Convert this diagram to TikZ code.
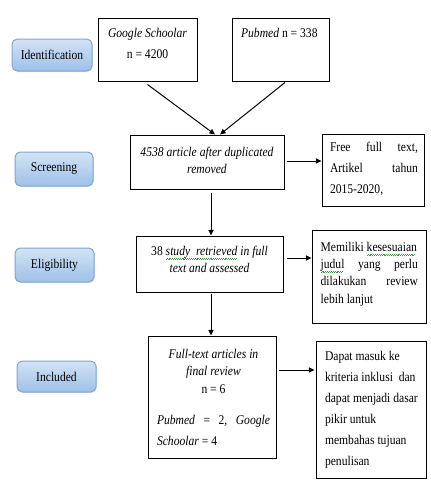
\documentclass[tikz,border=0pt]{standalone}
\usepackage{fontspec}
\setmainfont{Liberation Serif}[FakeStretch=0.87]
\usetikzlibrary{arrows.meta,calc,shadows}
\definecolor{wavegreen}{HTML}{3C9B3C}
\definecolor{lbtop}{HTML}{D3E3F5}
\definecolor{lbbot}{HTML}{9EC0E8}
\definecolor{lbdraw}{HTML}{7FA6D4}
\newcommand\gw[1]{\setbox0=\hbox{#1}\rlap{\color{wavegreen}\hbox to \wd0{\leaders\hbox{\rule[-3.1pt]{0.7pt}{0.45pt}\rule[-2.6pt]{0.7pt}{0.45pt}}\hfill}}\box0\relax}
% #1 width, #2 height, #3 left pad, #4 text width, #5 first baseline, #6 baselineskip, #7 content
\newcommand\tbx[7]{\parbox[c][#2][t]{#1}{\hspace*{#3}\parbox[t]{#4}{\baselineskip=#6\rule{0pt}{#5}#7}}}
\begin{document}
\begin{tikzpicture}[x=0.75pt,y=-0.75pt,
  box/.style={draw=black,line width=0.75pt,inner sep=0pt,fill=white},
  lab/.style={draw=lbdraw,line width=0.75pt,rounded corners=4pt,top color=lbtop,bottom color=lbbot,
     inner sep=0pt,font=\fontsize{10}{12}\selectfont,
     drop shadow={opacity=0.18,shadow xshift=0.8pt,shadow yshift=-0.8pt}},
  arr/.style={line width=0.75pt,-{Triangle[length=4.2pt,width=3.8pt]}}]
\useasboundingbox (0,0) rectangle (430,494);
\fill[white] (0,0) rectangle (430,494);
\fontsize{10}{12}\selectfont
% stage labels
\node[lab,minimum width=60pt,minimum height=24pt] (lid) at (52,55) {Identification};
\node[lab,minimum width=58.5pt,minimum height=25.5pt] (lsc) at (54,169) {Screening};
\node[lab,minimum width=59.25pt,minimum height=25.5pt] (lel) at (54.5,265) {Eligibility};
\node[lab,minimum width=59.25pt,minimum height=23.25pt] (lin) at (56.5,376.5) {Included};
% boxes
\node[box] (gs) at (147.5,49.5) {\tbx{74.25pt}{47.25pt}{0pt}{74.25pt}{14.25pt}{15.75pt}{\centering\textit{Google Schoolar}\\ n = 4200}};
\node[box] (pm) at (280.5,49.5) {\tbx{72.75pt}{47.25pt}{0pt}{71pt}{14.25pt}{15.75pt}{\centering\textit{Pubmed} n = 338}};
\node[box] (b1) at (207,162) {\tbx{115.5pt}{40.5pt}{0pt}{115.5pt}{15.75pt}{12.75pt}{\centering\textit{4538 article after duplicated\\ removed}}};
\node[box] (free) at (373,170) {\tbx{76.5pt}{54pt}{6pt}{66pt}{12.75pt}{15.75pt}{Free\hfill full\hfill text,\\ Artikel\hfill tahun\\ 2015-2020,}};
\node[box] (b2) at (209.5,264) {\tbx{110.25pt}{42pt}{0pt}{110.25pt}{14.25pt}{12.75pt}{\centering 38 \textit{\gw{study\ \ retrieved} in full\\ text and assessed}}};
\node[box] (mem) at (369,276.5) {\tbx{85.5pt}{69.75pt}{6.5pt}{73pt}{15.75pt}{13.1pt}{Memiliki \gw{kesesuaian}\\ \gw{judul}\hfill yang\hfill perlu\\ dilakukan\hfill review\\ lebih lanjut}};
\node[box] (b3) at (212,397) {\tbx{96pt}{91.5pt}{6.75pt}{84.75pt}{16.5pt}{13.25pt}{{\centering\textit{Full-text articles in}\\ \textit{final review}\\ n = 6\par}\vspace{7.5pt}{\baselineskip=15.75pt\textit{Pubmed}\hfill =\hfill 2,\hfill \textit{Google}\\ \textit{Schoolar} = 4\par}}};
\node[box] (dap) at (371,409.5) {\tbx{82.5pt}{102.75pt}{6.75pt}{74pt}{14.25pt}{15.75pt}{\raggedright Dapat masuk ke\\ kriteria inklusi\ \ dan\\ dapat menjadi dasar\\ pikir untuk\\ membahas tujuan\\ penulisan}};
% connectors
\draw[arr] ($(gs.south)+(0,3)$) -- ($(b1.north)+(8,0)$);
\draw[arr] ($(pm.south)+(4.5,1)$) -- ($(b1.north)+(13,0)$);
\draw[arr] ($(b1.east)+(2,-1)$) -- ($(free.west)+(0,-9)$);
\draw[arr] ($(b1.south)+(4,3)$) -- ($(b2.north)+(1.5,0)$);
\draw[arr] ($(b2.east)+(3,-6)$) -- ($(mem.west)+(0,-18.5)$);
\draw[arr] ($(b2.south)+(1.5,1)$) -- ($(b3.north)+(-1,0)$);
\draw[arr] ($(b3.east)+(2,-27)$) -- ($(dap.west)+(-1,-39.5)$);
\end{tikzpicture}
\end{document}
